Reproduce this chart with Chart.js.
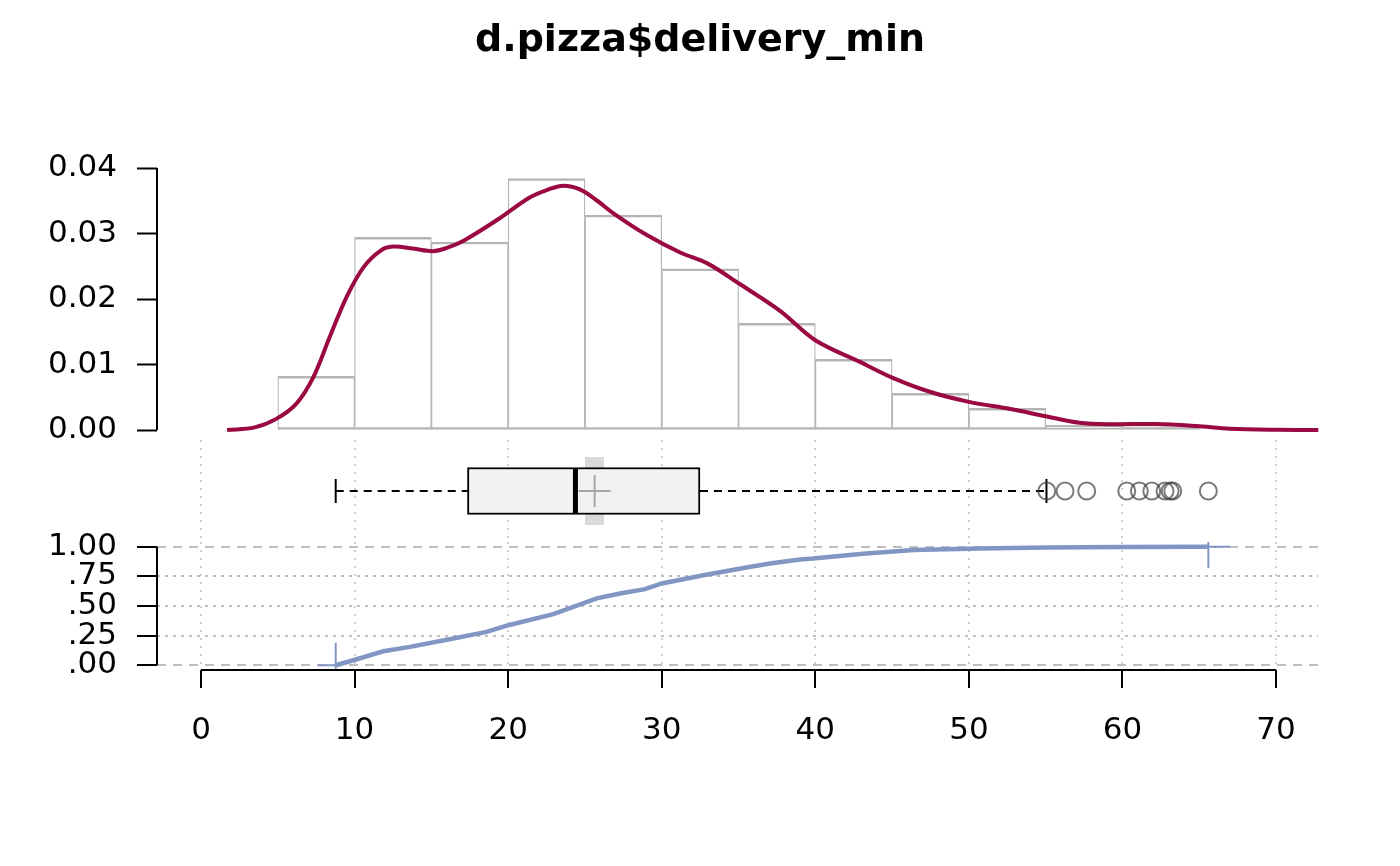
<!DOCTYPE html>
<html>
<head>
<meta charset="utf-8">
<script src="https://cdn.jsdelivr.net/npm/chart.js@4.4.1/dist/chart.umd.min.js"></script>
<style>
html,body{margin:0;padding:0;background:#fff;}
#wrap{position:relative;width:1400px;height:866px;background:#fff;overflow:hidden;}
canvas{position:absolute;left:0;}
</style>
</head>
<body>
<div id="wrap">
<canvas id="cHist" width="1400" height="480" style="top:0px"></canvas>
<canvas id="cBox" width="1400" height="102" style="top:440px"></canvas>
<canvas id="cEcdf" width="1400" height="366" style="top:500px"></canvas>
</div>
<script>
// ---------- data ----------
const titleText = 'd.pizza$delivery_min';
const xTicks = [0, 10, 20, 30, 40, 50, 60, 70];
const histTicks = [0, 0.01, 0.02, 0.03, 0.04];
const ecdfTicks = [0, 0.25, 0.5, 0.75, 1];

const binCenters = [7.5, 12.5, 17.5, 22.5, 27.5, 32.5, 37.5, 42.5, 47.5, 52.5, 57.5, 62.5];
const binDensity = [0.0082, 0.0294, 0.0287, 0.0384, 0.0328, 0.0246, 0.0163, 0.0108, 0.0056, 0.0033, 0.0007, 0.0009];

const densX = [1.7, 3.5, 4.9, 6.2, 7.3, 8.4, 9.5, 10.6, 11.7, 12.5, 13.8, 15.1, 16.0, 17.1, 19.3, 21.4, 22.6, 23.6, 24.7, 25.8, 26.9, 29.0, 31.2, 33.0, 35.0, 37.7, 40.0, 42.9, 45.0, 47.5, 50.0, 52.7, 55.0, 57.2, 59.4, 62.2, 64.8, 67.0, 70.0, 72.75];
const densY = [0, 0.0004, 0.0017, 0.0040, 0.0080, 0.0143, 0.0204, 0.0249, 0.0274, 0.0280, 0.0277, 0.0273, 0.0278, 0.0289, 0.0321, 0.0355, 0.0367, 0.0373, 0.0367, 0.0350, 0.0330, 0.0298, 0.0271, 0.0254, 0.0224, 0.0182, 0.0137, 0.0104, 0.0080, 0.0058, 0.0043, 0.0032, 0.0021, 0.0011, 0.00088, 0.00091, 0.0006, 0.0002, 0.00003, 0];

const boxMin = 8.77, boxQ1 = 17.35, boxMedian = 24.38, boxQ3 = 32.49, boxUpper = 55.05, boxMean = 25.63;
const meanCI = [25.0, 26.24];
const outliers = [55.07, 56.26, 57.67, 60.28, 61.10, 61.91, 62.77, 63.10, 63.27, 65.59];

const ecdfX = [8.77, 9.92, 11.87, 13.61, 16.43, 18.6, 20.01, 22.94, 25.77, 27.28, 28.91, 30.0, 32.71, 35.42, 37.05, 39.0, 39.87, 43.1, 46.4, 50.7, 55.07, 60.0, 65.59];
const ecdfY = [0, 0.042, 0.118, 0.155, 0.226, 0.282, 0.338, 0.431, 0.564, 0.606, 0.642, 0.69, 0.76, 0.822, 0.859, 0.893, 0.9, 0.94, 0.972, 0.986, 0.993, 0.997, 1.0];
const ecdfLeftEnd = 7.6, ecdfRightEnd = 67.0;

// ---------- style ----------
const FONT = 'DejaVu Sans';
const X_MIN = -2.865, X_MAX = 72.73;
const LEFT = 157, RIGHT_W = 82;
const RED = '#9A0941', BLUE = '#8296C4';
const tickLenEcdf = 0.22;
const TICK_FONT = 31;

Chart.defaults.font.family = FONT;
Chart.defaults.color = '#000';

const rAxis = {
  id: 'rAxis',
  afterDraw(chart, args, opts) {
    const ctx = chart.ctx;
    (opts.axes || []).forEach(id => {
      const s = chart.scales[id];
      const t = s.ticks;
      if (!t.length) return;
      const p0 = s.getPixelForValue(t[0].value), p1 = s.getPixelForValue(t[t.length - 1].value);
      ctx.save();
      ctx.strokeStyle = '#000';
      ctx.lineWidth = 2;
      ctx.beginPath();
      if (s.isHorizontal()) {
        ctx.moveTo(p0, s.top); ctx.lineTo(p1, s.top);
      } else {
        ctx.moveTo(s.right, p0); ctx.lineTo(s.right, p1);
      }
      ctx.stroke();
      ctx.restore();
    });
  }
};

const setTicks = arr => (scale) => { scale.ticks = arr.map(v => ({value: v})); };
const pts = (xs, ys) => xs.map((x, i) => ({x: x, y: ys[i]}));
const spacerAxis = {
  position: 'right', display: true, afterFit: s => { s.width = RIGHT_W; },
  grid: {display: false}, ticks: {display: false}, border: {display: false}
};

// ---------- histogram + density ----------
new Chart(document.getElementById('cHist'), {
  type: 'bar',
  data: {
    datasets: [
      {
        type: 'line',
        data: pts(densX, densY),
        borderColor: RED, borderWidth: 4, pointRadius: 0,
        tension: 0.35, clip: false, order: 1
      },
      {
        type: 'bar',
        data: pts(binCenters, binDensity),
        backgroundColor: '#FFFFFF', borderColor: '#B5B5B5',
        borderWidth: {top: 2.5, bottom: 2.5, left: 1.25, right: 1.25}, borderSkipped: false,
        barPercentage: 1, categoryPercentage: 1, grouped: false, order: 2
      }
    ]
  },
  options: {
    responsive: false, animation: false, devicePixelRatio: 1,
    layout: {autoPadding: false, padding: {left: 0, right: 0, top: 0, bottom: 50}},
    plugins: {
      legend: {display: false}, tooltip: {enabled: false},
      title: {display: true, text: titleText, color: '#000',
        font: {family: FONT, size: 38, weight: 'bold', lineHeight: 1.2},
        padding: {top: 18, bottom: 104.4}},
      rAxis: {axes: ['y']}
    },
    scales: {
      x: {type: 'linear', min: X_MIN, max: X_MAX, display: false, offset: false, grid: {offset: false}},
      y: {
        type: 'linear', min: 0, max: 0.04,
        afterBuildTicks: setTicks(histTicks),
        afterFit: s => { s.width = LEFT; },
        border: {display: false},
        grid: {drawOnChartArea: false, tickLength: 20, tickColor: '#000', tickWidth: 2},
        ticks: {padding: 20, font: {size: TICK_FONT}, color: '#000', autoSkip: false, callback: v => v.toFixed(2)}
      },
      yR: spacerAxis
    }
  },
  plugins: [rAxis]
});

// ---------- boxplot ----------
new Chart(document.getElementById('cBox'), {
  type: 'bar',
  data: {
    datasets: [
      {type: 'scatter', data: outliers.map(v => ({x: v, y: 1})), pointStyle: 'circle', pointRadius: 8.5,
        borderColor: 'rgba(60,60,60,0.68)', backgroundColor: 'rgba(0,0,0,0)', borderWidth: 2, order: 1},
      {type: 'scatter', data: [{x: boxMean, y: 1}], pointStyle: 'cross', pointRadius: 16,
        borderColor: '#A6A6A6', borderWidth: 2, order: 2},
      {type: 'scatter', data: [{x: boxMedian, y: 1}], pointStyle: 'line', rotation: 90, pointRadius: 23,
        borderColor: '#000', borderWidth: 5, order: 3},
      {type: 'scatter', data: [{x: boxMin, y: 1}, {x: boxUpper, y: 1}], pointStyle: 'line', rotation: 90, pointRadius: 12,
        borderColor: '#000', borderWidth: 2, order: 4},
      {type: 'line', data: [{x: boxMin, y: 1}, {x: boxQ1, y: 1}], borderColor: '#000', borderWidth: 2,
        borderDash: [8, 6], pointRadius: 0, order: 6},
      {type: 'line', data: [{x: boxQ3, y: 1}, {x: boxUpper, y: 1}], borderColor: '#000', borderWidth: 2,
        borderDash: [8, 6], pointRadius: 0, order: 6},
      {type: 'bar', indexAxis: 'y', grouped: false, data: [{x: [boxQ1, boxQ3], y: 1}], barThickness: 47,
        backgroundColor: '#F2F2F2', borderColor: '#000', borderWidth: 2, borderSkipped: false, order: 5},
      {type: 'line', data: [{x: meanCI[0], y: 1}, {x: meanCI[1], y: 1}], borderColor: '#D9D9D9',
        borderWidth: 68, borderCapStyle: 'butt', pointRadius: 0, clip: false, order: 7}
    ]
  },
  options: {
    responsive: false, animation: false, devicePixelRatio: 1,
    layout: {autoPadding: false, padding: {left: LEFT, right: RIGHT_W, top: 0, bottom: 0}},
    plugins: {legend: {display: false}, tooltip: {enabled: false}},
    scales: {
      x: {
        type: 'linear', min: X_MIN, max: X_MAX, offset: false,
        afterBuildTicks: setTicks(xTicks),
        afterFit: s => { s.height = 0; },
        border: {display: false, dash: [2, 6]},
        grid: {color: '#D0D0D0', lineWidth: 2, drawTicks: false, offset: false},
        ticks: {display: false}
      },
      y: {type: 'linear', min: 0, max: 2, display: false, offset: false}
    }
  }
});

// ---------- ECDF ----------
new Chart(document.getElementById('cEcdf'), {
  type: 'line',
  data: {
    datasets: [
      {data: pts(ecdfX, ecdfY), borderColor: BLUE, borderWidth: 4.5, pointRadius: 0, tension: 0, order: 1},
      {data: [{x: ecdfLeftEnd, y: 0}, {x: ecdfX[0], y: 0}], borderColor: BLUE, borderWidth: 2, pointRadius: 0, order: 2},
      {data: [{x: ecdfX[ecdfX.length - 1], y: 1}, {x: ecdfRightEnd, y: 1}], borderColor: BLUE, borderWidth: 2, pointRadius: 0, order: 2},
      {data: [{x: ecdfX[0], y: -0.03}, {x: ecdfX[0], y: tickLenEcdf - 0.03}], borderColor: BLUE, borderWidth: 2, pointRadius: 0, order: 2},
      {data: [{x: ecdfX[ecdfX.length - 1], y: 1.04}, {x: ecdfX[ecdfX.length - 1], y: 1.04 - tickLenEcdf}], borderColor: BLUE, borderWidth: 2, pointRadius: 0, order: 2}
    ]
  },
  options: {
    responsive: false, animation: false, devicePixelRatio: 1,
    layout: {autoPadding: false, padding: {left: 0, right: RIGHT_W, top: 42, bottom: 116}},
    plugins: {legend: {display: false}, tooltip: {enabled: false}, rAxis: {axes: ['x', 'y']}},
    scales: {
      x: {
        type: 'linear', min: X_MIN, max: X_MAX, offset: false,
        afterBuildTicks: setTicks(xTicks),
        afterFit: s => { s.height = 80; },
        border: {display: false, dash: [2, 6]},
        grid: {color: '#D0D0D0', lineWidth: 2, tickLength: 18, tickColor: '#000', tickWidth: 2},
        ticks: {padding: 24, font: {size: TICK_FONT}, color: '#000', maxRotation: 0, autoSkip: false, callback: v => String(v)}
      },
      y: {
        type: 'linear', min: -0.04, max: 1.04,
        afterBuildTicks: setTicks(ecdfTicks),
        afterFit: s => { s.width = LEFT; },
        border: {display: false, dash: ctx => (ctx.tick && (ctx.tick.value === 0 || ctx.tick.value === 1)) ? [9, 7] : [3, 5]},
        grid: {color: '#BEBEBE', lineWidth: 2, tickLength: 20, tickColor: '#000', tickWidth: 2},
        ticks: {padding: 20, font: {size: TICK_FONT}, color: '#000', autoSkip: false,
          callback: v => v === 1 ? '1.00' : v.toFixed(2).replace(/^0/, '')}
      }
    }
  },
  plugins: [rAxis]
});
</script>
</body>
</html>
